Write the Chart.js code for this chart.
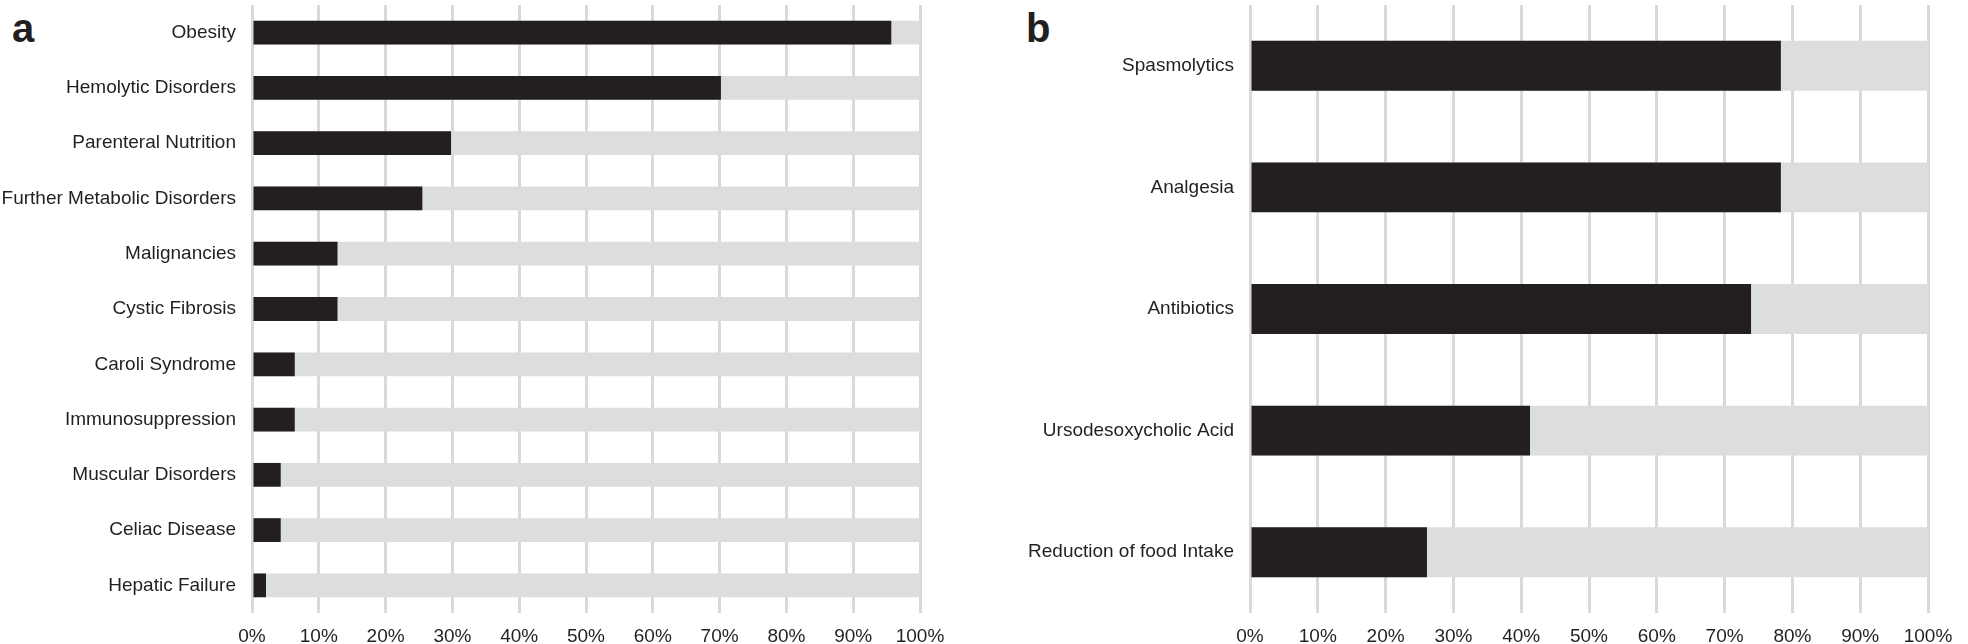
<!DOCTYPE html>
<html>
<head>
<meta charset="utf-8">
<script src="https://cdn.jsdelivr.net/npm/chart.js@4"></script>
<style>
  body { margin: 0; background: #fff; }
  #wrap { position: relative; width: 1968px; height: 644px; overflow: hidden; }
  canvas { position: absolute; top: 0; }
  .panel { position: absolute; top: 8px; font: bold 40px "Liberation Sans", Arial, sans-serif; line-height: 40px; color: #231f20; }
</style>
</head>
<body>
<div id="wrap">
  <div class="panel" style="left:12px">a</div>
  <div class="panel" style="left:1026px">b</div>
  <canvas id="chartA" width="960" height="644" style="left:0"></canvas>
  <canvas id="chartB" width="978" height="644" style="left:990px"></canvas>
</div>
<script>
const labelsA = ["Obesity", "Hemolytic Disorders", "Parenteral Nutrition", "Further Metabolic Disorders",
    "Malignancies", "Cystic Fibrosis", "Caroli Syndrome", "Immunosuppression",
    "Muscular Disorders", "Celiac Disease", "Hepatic Failure"];
const valuesA = [95.7, 70.2, 29.8, 25.5, 12.8, 12.8, 6.4, 6.4, 4.3, 4.3, 2.1];
const totalA = [100, 100, 100, 100, 100, 100, 100, 100, 100, 100, 100];

const labelsB = ["Spasmolytics", "Analgesia", "Antibiotics", "Ursodesoxycholic Acid", "Reduction of food Intake"];
const valuesB = [78.3, 78.3, 73.9, 41.3, 26.1];
const totalB = [100, 100, 100, 100, 100];

const xTicks = [0, 10, 20, 30, 40, 50, 60, 70, 80, 90, 100];

const DARK = "#231f20";
const LIGHT = "#dcdddf";
const GRID = "#d9d9d9";
const FONT = { family: "'Liberation Sans', Arial, sans-serif", size: 19 };

Chart.defaults.animation = false;

function makeChart(canvasId, labels, values, totals, axisWidth, barPct) {
    const ctx = document.getElementById(canvasId).getContext("2d");
    return new Chart(ctx, {
        type: "bar",
        data: {
            labels: labels,
            datasets: [
                { data: values, backgroundColor: DARK, grouped: false, barPercentage: barPct, categoryPercentage: 1 },
                { data: totals, backgroundColor: LIGHT, grouped: false, barPercentage: barPct, categoryPercentage: 1 }
            ]
        },
        options: {
            indexAxis: "y",
            responsive: false,
            layout: { padding: { left: 0, right: 40, top: 5, bottom: 0 } },
            plugins: {
                legend: { display: false },
                tooltip: { enabled: false }
            },
            scales: {
                x: {
                    min: 0,
                    max: 100,
                    afterBuildTicks: (scale) => { scale.ticks = xTicks.map(v => ({ value: v })); },
                    afterFit: (scale) => { scale.height = 31; },
                    grid: { color: GRID, lineWidth: 3, drawTicks: false },
                    border: { display: false },
                    ticks: {
                        padding: 12,
                        color: DARK,
                        font: FONT,
                        maxRotation: 0,
                        autoSkip: false,
                        callback: (v) => v + "%"
                    }
                },
                y: {
                    afterFit: (scale) => {
                        scale.width = axisWidth;
                        scale.paddingTop = 0;
                        scale.paddingBottom = 0;
                    },
                    grid: { display: false, drawTicks: false },
                    border: { display: false },
                    ticks: { padding: 16, color: DARK, font: FONT, autoSkip: false }
                }
            }
        }
    });
}

makeChart("chartA", labelsA, valuesA, totalA, 252, 0.43);
makeChart("chartB", labelsB, valuesB, totalB, 260, 0.41);
</script>
</body>
</html>
